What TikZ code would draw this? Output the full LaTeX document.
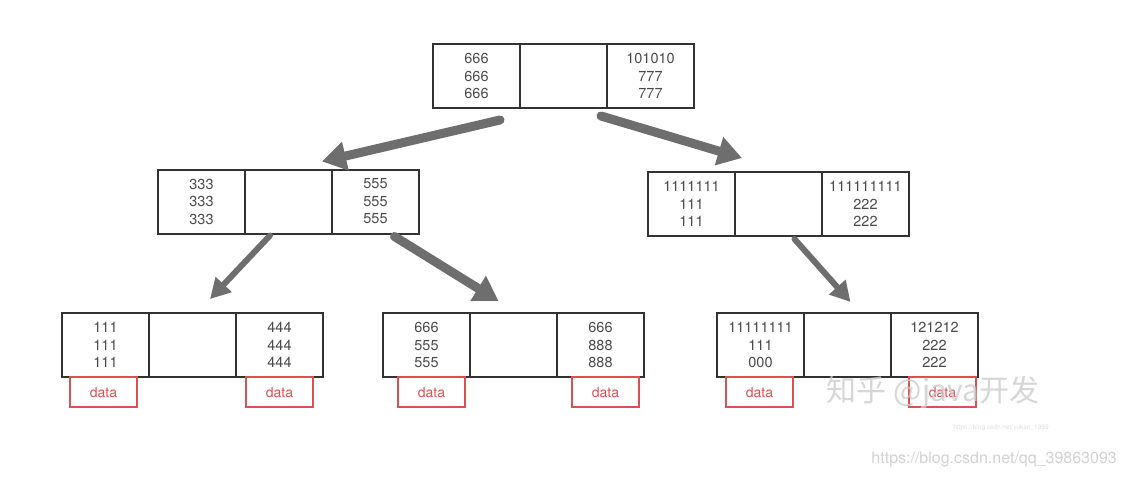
\documentclass[tikz,border=0pt]{standalone}
\usepackage{fontspec}
\setmainfont{TeX Gyre Heros}
\newfontfamily\cjk{Noto Sans CJK SC}
\usetikzlibrary{positioning,arrows.meta}
\definecolor{boxline}{RGB}{50,50,50}
\definecolor{keytext}{RGB}{75,75,75}
\definecolor{datared}{RGB}{222,80,80}
\definecolor{arrowgray}{RGB}{110,110,110}
\tikzset{
  cell/.style={draw=boxline, line width=2pt, minimum width=87pt, minimum height=64pt,
    inner sep=0pt, outer sep=0pt, align=center, text=keytext,
    font=\fontsize{14.5}{17.5}\selectfont},
  databox/.style={draw=datared, line width=1.6pt, minimum width=67pt, minimum height=30pt,
    inner sep=0pt, outer sep=0pt, text=datared, font=\fontsize{14}{15}\selectfont},
  bigarrow/.style={draw=arrowgray, line width=9pt, line cap=round,
    -{Triangle[length=24pt,width=28pt]}},
  smallarrow/.style={draw=arrowgray, line width=6pt, line cap=round,
    -{Triangle[length=20pt,width=21pt]}},
  mark text/.style={inner sep=0pt, text=gray!40}
}
\begin{document}
\begin{tikzpicture}[x=1pt,y=-1pt]
\useasboundingbox[fill=white] (0,0) rectangle (1127,477);
% root
\node[cell] (root-l) at (476.5,76) {666\\666\\666};
\node[cell, right=0pt of root-l] (root-m) {};
\node[cell, right=0pt of root-m] (root-r) {101010\\777\\777};
% second level
\node[cell] (midl-l) at (201.5,201.5) {333\\333\\333};
\node[cell, right=0pt of midl-l] (midl-m) {};
\node[cell, right=0pt of midl-m] (midl-r) {555\\555\\555};
\node[cell] (midr-l) at (691.5,204) {1111111\\111\\111};
\node[cell, right=0pt of midr-l] (midr-m) {};
\node[cell, right=0pt of midr-m] (midr-r) {111111111\\222\\222};
% leaves
\node[cell] (leafa-l) at (105.5,345) {111\\111\\111};
\node[cell, right=0pt of leafa-l] (leafa-m) {};
\node[cell, right=0pt of leafa-m] (leafa-r) {444\\444\\444};
\node[cell] (leafb-l) at (426.5,345) {666\\555\\555};
\node[cell, right=0pt of leafb-l] (leafb-m) {};
\node[cell, right=0pt of leafb-m] (leafb-r) {666\\888\\888};
\node[cell] (leafc-l) at (760.5,345) {11111111\\111\\000};
\node[cell, right=0pt of leafc-l] (leafc-m) {};
\node[cell, right=0pt of leafc-m] (leafc-r) {121212\\222\\222};
% data
\node[databox, below right=0pt and 8pt of leafa-l.south west] (dataa-l) {data};
\node[databox, below right=0pt and 10pt of leafa-r.south west] (dataa-r) {data};
\node[databox, below right=0pt and 15pt of leafb-l.south west] (datab-l) {data};
\node[databox, below right=0pt and 15pt of leafb-r.south west] (datab-r) {data};
\node[databox, below right=0pt and 9pt of leafc-l.south west] (datac-l) {data};
\node[databox, below right=0pt and 18pt of leafc-r.south west] (datac-r) {data};
% arrows
\draw[bigarrow] ([xshift=-20pt,yshift=-12pt]root-l.south east) -- ([xshift=-10pt,yshift=8pt]midl-r.north west);
\draw[bigarrow] ([xshift=-6pt,yshift=-8pt]root-r.south west) -- ([xshift=7pt,yshift=14pt]midr-m.north west);
\draw[smallarrow] ([xshift=25pt,yshift=-2pt]midl-m.south west) -- ([xshift=17.5pt,yshift=14pt]leafa-m.north);
\draw[bigarrow] ([xshift=19pt,yshift=-3pt]midl-r.south) -- ([xshift=-15pt,yshift=12pt]leafb-m.north);
\draw[smallarrow] ([xshift=16pt,yshift=-3pt]midr-m.south) -- ([xshift=3pt,yshift=11pt]leafc-m.north);
% watermarks
\node[mark text, font=\cjk\fontsize{30}{31}\selectfont, opacity=0.8] (mark-a) at (933,392) {知乎 @java开发};
\node[mark text, text=gray!25, font=\fontsize{6.5}{7}\selectfont] (mark-b) at (1001,428) {https://blog.csdn.net/yukan\_1999};
\node[mark text, text=gray!35, font=\fontsize{16}{18}\selectfont, anchor=east] (mark-c) at (1117,459) {https://blog.csdn.net/qq\_39863093};
\end{tikzpicture}
\end{document}
